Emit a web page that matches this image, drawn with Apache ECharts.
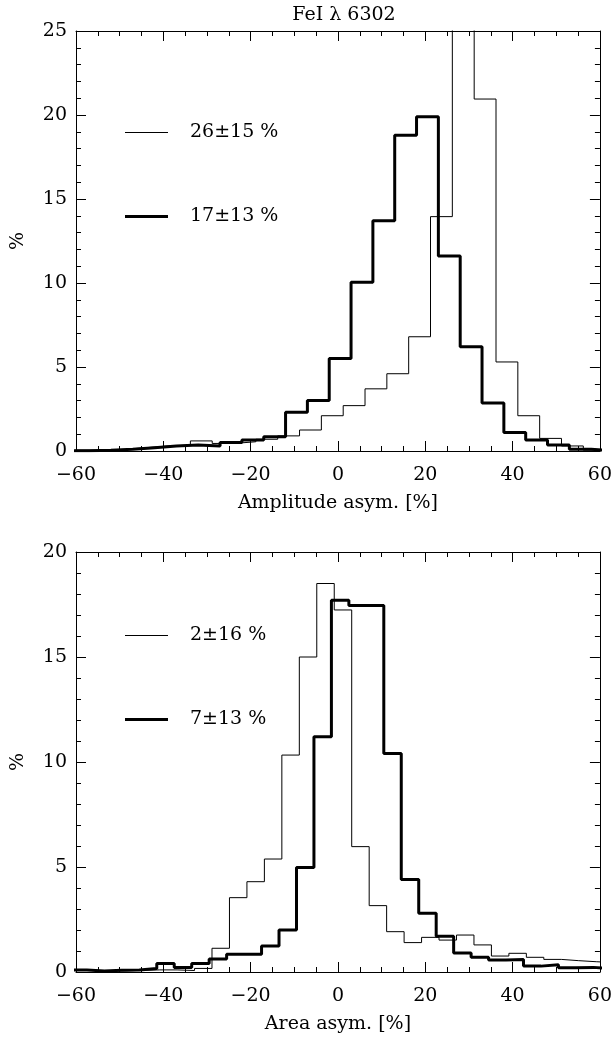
<!DOCTYPE html>
<html>
<head>
<meta charset="utf-8">
<script src="https://cdn.jsdelivr.net/npm/echarts@6/dist/echarts.min.js"></script>
<style>
html, body { margin: 0; padding: 0; background: #fff; }
#chart { width: 615px; height: 1038px; }
</style>
</head>
<body>
<div id="chart"></div>
<script>
// Amplitude asymmetry histograms (top panel), bins 5 wide
const ampThinStart = -63.8, ampThinWidth = 5;
const ampThin = [0.05, 0.05, 0.1, 0.2, 0.3, 0.35, 0.6, 0.45, 0.55, 0.7, 0.9, 1.25, 2.1,
    2.7, 3.7, 4.6, 6.8, 13.95, 29, 20.95, 5.3, 2.1, 0.75, 0.3, 0.05];
const ampThickStart = -62, ampThickWidth = 5;
const ampThick = [0.02, 0.05, 0.1, 0.2, 0.3, 0.35, 0.3, 0.5, 0.65, 0.85, 2.3, 3.0, 5.5,
    10.05, 13.7, 18.8, 19.9, 11.6, 6.2, 2.85, 1.1, 0.65, 0.35, 0.1, 0.02];

// Area asymmetry histograms (bottom panel), bins 4 wide
const areaThinStart = -64.85, areaThinWidth = 4;
const areaThin = [0.2, 0.1, 0.05, 0.05, 0.08, 0.1, 0.1, 0.07, 0.17, 1.13, 3.54, 4.3, 5.38,
    10.33, 15.0, 18.5, 17.24, 5.97, 3.16, 1.92, 1.4, 1.65, 1.52, 1.76, 1.29, 0.76, 0.89,
    0.7, 0.6, 0.54, 0.49, 0.45];
const areaThickStart = -61.5, areaThickWidth = 4;
const areaThick = [0.1, 0.05, 0.08, 0.1, 0.17, 0.41, 0.22, 0.41, 0.62, 0.84, 0.84, 1.24, 2.0,
    4.98, 11.2, 17.7, 17.45, 17.45, 10.4, 4.4, 2.8, 1.7, 0.9, 0.7, 0.57, 0.6, 0.28, 0.35,
    0.2, 0.22, 0.15];

const legendNames = ['26±15 %', '17±13 %', '2±16 %', '7±13 %'];
const xRange = [-60, 60, 20];
const yTopRange = [0, 25, 5];
const yBottomRange = [0, 20, 5];
const xNames = ['Amplitude asym. [%]', 'Area asym. [%]'];

const font = 'DejaVu Serif';

// histogram -> step polyline through bin edges
function steps(start, width, values) {
    const pts = [];
    values.forEach((v, i) => {
        pts.push([start + i * width, v]);
        pts.push([start + (i + 1) * width, v]);
    });
    return pts;
}

function fmt(v) {
    return v < 0 ? '\u2212' + Math.abs(v) : String(v);
}

function xAxis(grid, pos, name) {
    return {
        type: 'value', gridIndex: grid, position: pos,
        min: xRange[0], max: xRange[1], interval: xRange[2],
        axisLine: { onZero: false, lineStyle: { color: '#000', width: 1 } },
        axisTick: { inside: true, length: 10, lineStyle: { color: '#000' } },
        minorTick: { show: true, splitNumber: 4, length: 5, lineStyle: { color: '#000' } },
        splitLine: { show: false },
        axisLabel: { show: pos === 'bottom', margin: 15, color: '#000', fontFamily: font, fontSize: 19, formatter: fmt },
        name: name || '', nameLocation: 'middle', nameGap: 43,
        nameTextStyle: { color: '#000', fontFamily: font, fontSize: 19 }
    };
}

function yAxis(grid, pos, range) {
    return {
        type: 'value', gridIndex: grid, position: pos,
        min: range[0], max: range[1], interval: range[2],
        axisLine: { onZero: false, lineStyle: { color: '#000', width: 1 } },
        axisTick: { inside: true, length: 10, lineStyle: { color: '#000' } },
        minorTick: { show: true, splitNumber: 5, length: 5, lineStyle: { color: '#000' } },
        splitLine: { show: false },
        axisLabel: { show: pos === 'left', margin: 9, color: '#000', fontFamily: font, fontSize: 19 },
        name: pos === 'left' ? '%' : '', nameLocation: 'middle', nameGap: 48, nameRotate: 90,
        nameTextStyle: { color: '#000', fontFamily: font, fontSize: 19 }
    };
}

function histSeries(name, xi, yi, data, width) {
    return {
        type: 'line', name: name, xAxisIndex: xi, yAxisIndex: yi, data: data,
        symbol: 'none', clip: true, animation: false,
        lineStyle: { color: '#000', width: width }, itemStyle: { color: '#000' }
    };
}

// one legend per entry: a plain bar as wide as the sample line, no marker
function legendAt(name, top, width) {
    return {
        data: [name], left: 120, top: top, icon: 'rect',
        itemWidth: 43, itemHeight: width,
        selectedMode: false,
        itemStyle: { color: '#000', borderWidth: 0 },
        textStyle: { color: '#000', fontFamily: font, fontSize: 19, padding: [0, 0, 0, 17] }
    };
}

const chart = echarts.init(document.getElementById('chart'));
chart.setOption({
    backgroundColor: '#fff',
    animation: false,
    title: {
        text: 'FeI \u03bb 6302', left: 339, top: 1, textAlign: 'center',
        textStyle: { color: '#000', fontFamily: font, fontSize: 19, fontWeight: 'normal' }
    },
    grid: [
        { left: 76, top: 31, width: 526, height: 420 },
        { left: 76, top: 552, width: 526, height: 420 }
    ],
    xAxis: [
        xAxis(0, 'bottom', xNames[0]),
        xAxis(0, 'top'),
        xAxis(1, 'bottom', xNames[1]),
        xAxis(1, 'top')
    ],
    yAxis: [
        yAxis(0, 'left', yTopRange),
        yAxis(0, 'right', yTopRange),
        yAxis(1, 'left', yBottomRange),
        yAxis(1, 'right', yBottomRange)
    ],
    legend: [
        legendAt(legendNames[0], 118, 1),
        legendAt(legendNames[1], 202, 3),
        legendAt(legendNames[2], 621, 1),
        legendAt(legendNames[3], 705, 3)
    ],
    series: [
        histSeries(legendNames[0], 0, 0, steps(ampThinStart, ampThinWidth, ampThin), 1),
        histSeries(legendNames[1], 0, 0, steps(ampThickStart, ampThickWidth, ampThick), 3),
        histSeries(legendNames[2], 2, 2, steps(areaThinStart, areaThinWidth, areaThin), 1),
        histSeries(legendNames[3], 2, 2, steps(areaThickStart, areaThickWidth, areaThick), 3)
    ]
});
</script>
</body>
</html>
